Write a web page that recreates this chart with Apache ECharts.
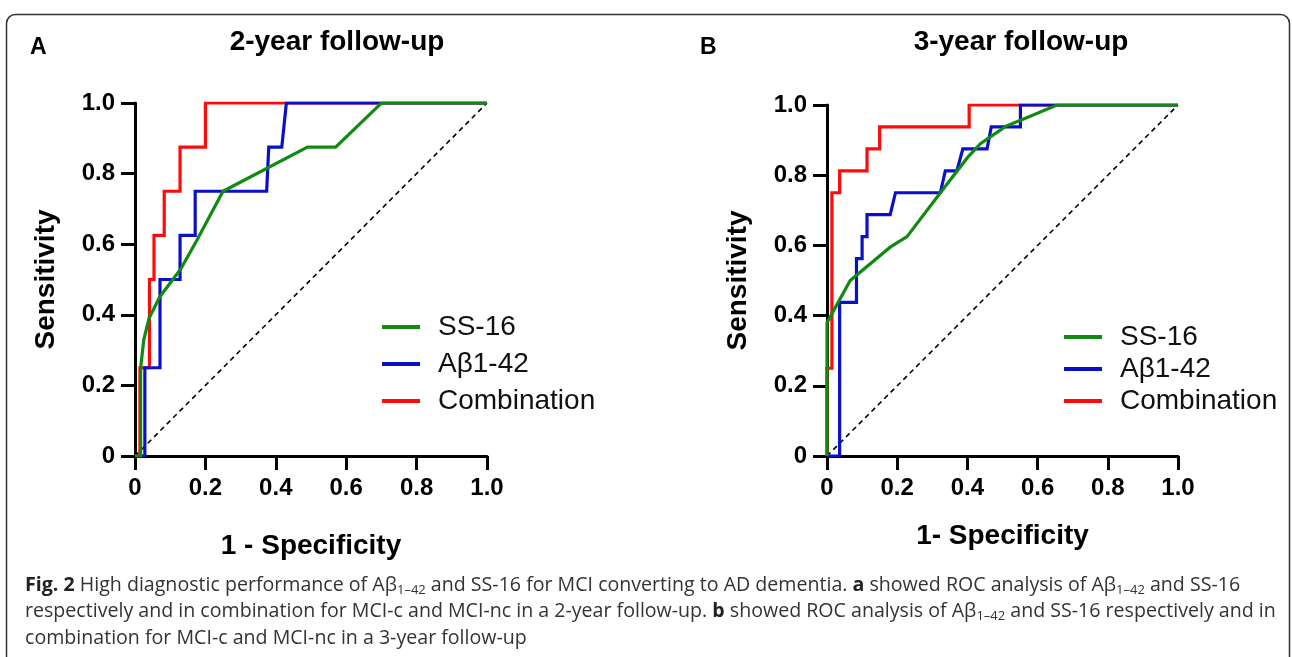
<!DOCTYPE html>
<html>
<head>
<meta charset="utf-8">
<title>ROC follow-up</title>
<script src="https://cdn.jsdelivr.net/npm/echarts/dist/echarts.min.js"></script>
<style>
  html, body { margin: 0; padding: 0; background: #fff; }
  #main { width: 1292px; height: 657px; }
</style>
</head>
<body>
<div id="main"></div>
<script>
  // tick labels
  const tickValues = [0, 0.2, 0.4, 0.6, 0.8, 1.0];
  const seriesNames = ['SS-16', 'Aβ1-42', 'Combination'];

  // panel A: 2-year follow-up, [1 - specificity, sensitivity]
  const ss16A = [[0, 0], [0.016, 0], [0.016, 0.25], [0.025, 0.33], [0.04, 0.39], [0.07, 0.45], [0.10, 0.49],
    [0.13, 0.53], [0.175, 0.61], [0.25, 0.75], [0.49, 0.875], [0.57, 0.875], [0.70, 1], [1, 1]];
  const abA = [[0, 0], [0.028, 0], [0.028, 0.25], [0.071, 0.25], [0.071, 0.5], [0.128, 0.5], [0.128, 0.625],
    [0.171, 0.625], [0.171, 0.75], [0.374, 0.75], [0.38, 0.875], [0.417, 0.875], [0.43, 1], [1, 1]];
  const combA = [[0, 0], [0.014, 0], [0.014, 0.25], [0.041, 0.25], [0.041, 0.5], [0.054, 0.5], [0.054, 0.625],
    [0.083, 0.625], [0.083, 0.75], [0.128, 0.75], [0.128, 0.875], [0.2, 0.875], [0.2, 1], [1, 1]];

  // panel B: 3-year follow-up
  const ss16B = [[0, 0], [0, 0.38], [0.066, 0.5], [0.18, 0.595], [0.228, 0.625], [0.323, 0.75], [0.40, 0.85],
    [0.437, 0.89], [0.51, 0.94], [0.56, 0.96], [0.655, 1], [1, 1]];
  const abB = [[0, 0], [0.036, 0], [0.036, 0.4375], [0.084, 0.4375], [0.084, 0.5625], [0.1, 0.5625], [0.1, 0.625],
    [0.114, 0.625], [0.114, 0.6875], [0.18, 0.6875], [0.195, 0.75], [0.323, 0.75], [0.337, 0.8125], [0.37, 0.8125],
    [0.387, 0.875], [0.456, 0.875], [0.468, 0.9375], [0.551, 0.9375], [0.551, 1], [1, 1]];
  const combB = [[0, 0], [0, 0.25], [0.014, 0.25], [0.014, 0.75], [0.036, 0.75], [0.036, 0.8125], [0.114, 0.8125],
    [0.114, 0.875], [0.15, 0.875], [0.15, 0.9375], [0.405, 0.9375], [0.405, 1], [1, 1]];

  // reference line
  const diagonal = [[0, 0], [1, 1]];

  const colors = { 'SS-16': '#118a11', 'Aβ1-42': '#0a10c8', 'Combination': '#ff0a0a' };
  const font = '"Liberation Sans", Arial, Helvetica, sans-serif';

  let myChart = echarts.init(document.getElementById('main'));

  function xAxisCfg(idx, name, gap) {
    return {
      type: 'value', gridIndex: idx, min: 0, max: 1, interval: 0.2,
      name: name, nameLocation: 'middle', nameGap: gap,
      nameTextStyle: { fontFamily: font, fontWeight: 'bold', fontSize: 28, color: '#000' },
      axisLine: { show: true, onZero: false, lineStyle: { color: '#000', width: 3 } },
      axisTick: { show: true, inside: false, length: 14, lineStyle: { color: '#000', width: 3 } },
      splitLine: { show: false },
      axisLabel: {
        fontFamily: font, fontWeight: 'bold', fontSize: 24, color: '#000', margin: 20,
        formatter: v => v === 0 ? '0' : v.toFixed(1)
      }
    }
  }

  function yAxisCfg(idx, gap) {
    return {
      type: 'value', gridIndex: idx, min: 0, max: 1, interval: 0.2,
      name: 'Sensitivity', nameLocation: 'middle', nameGap: gap,
      nameTextStyle: { fontFamily: font, fontWeight: 'bold', fontSize: 28, color: '#000' },
      axisLine: { show: true, onZero: false, lineStyle: { color: '#000', width: 3 } },
      axisTick: { show: true, inside: false, length: 14, lineStyle: { color: '#000', width: 3 } },
      splitLine: { show: false },
      axisLabel: {
        fontFamily: font, fontWeight: 'bold', fontSize: 24, color: '#000', margin: 20,
        formatter: v => v === 0 ? '0' : v.toFixed(1)
      }
    }
  }

  function rocSeries(name, data, idx) {
    return {
      name: name, type: 'line', data: data, xAxisIndex: idx, yAxisIndex: idx,
      showSymbol: false, symbol: 'none', animation: false,
      lineStyle: { color: colors[name], width: 3.2, join: 'miter' },
      itemStyle: { color: colors[name] }
    }
  }

  function diagSeries(idx) {
    return {
      type: 'line', data: diagonal, xAxisIndex: idx, yAxisIndex: idx, symbol: 'none', animation: false,
      lineStyle: { color: '#000', width: 1.6, type: [5, 4] }, silent: true
    }
  }

  const captionLines =
    '{b|Fig. 2} High diagnostic performance of Aβ{s|1–42} and SS-16 for MCI converting to AD dementia. {b|a} showed ROC analysis of Aβ{s|1–42} and SS-16\n' +
    'respectively and in combination for MCI-c and MCI-nc in a 2-year follow-up. {b|b} showed ROC analysis of Aβ{s|1–42} and SS-16 respectively and in\n' +
    'combination for MCI-c and MCI-nc in a 3-year follow-up';

  const capFont = '"Open Sans", "Noto Sans", sans-serif';

  let option = {
    backgroundColor: '#fff',
    animation: false,
    grid: [
      { left: 135, top: 103, width: 352, height: 353 },
      { left: 827, top: 105, width: 351, height: 351 }
    ],
    xAxis: [xAxisCfg(0, '1 - Specificity', 76), xAxisCfg(1, '1- Specificity', 66)],
    yAxis: [yAxisCfg(0, 75), yAxisCfg(1, 75)],
    legend: [
      {
        left: 377, top: 308, orient: 'vertical', itemWidth: 38, itemHeight: 4, itemGap: 9,
        icon: 'rect', data: seriesNames, selectedMode: false,
        textStyle: { fontFamily: font, fontSize: 28, color: '#111', padding: [0, 0, 0, 13] }
      },
      {
        left: 1059, top: 318, orient: 'vertical', itemWidth: 38, itemHeight: 4, itemGap: 4,
        icon: 'rect', data: seriesNames, selectedMode: false,
        textStyle: { fontFamily: font, fontSize: 28, color: '#111', padding: [0, 0, 0, 13] }
      }
    ],
    series: [
      diagSeries(0),
      rocSeries('Combination', combA, 0),
      rocSeries('Aβ1-42', abA, 0),
      rocSeries('SS-16', ss16A, 0),
      diagSeries(1),
      rocSeries('Combination', combB, 1),
      rocSeries('Aβ1-42', abB, 1),
      rocSeries('SS-16', ss16B, 1)
    ],
    graphic: [
      {
        type: 'rect', left: 4, top: 12, silent: true,
        shape: { width: 1283, height: 700, r: 9 },
        style: { fill: 'none', stroke: '#333', lineWidth: 1.5 }
      },
      {
        type: 'text', left: 30, top: 36,
        style: { text: 'A', font: 'bold 23px ' + font, fill: '#000' }
      },
      {
        type: 'text', left: 700, top: 36,
        style: { text: 'B', font: 'bold 23px ' + font, fill: '#000' }
      },
      {
        type: 'text', x: 337, y: 28,
        style: { text: '2-year follow-up', font: 'bold 28px ' + font, fill: '#000', align: 'center' }
      },
      {
        type: 'text', x: 1021, y: 28,
        style: { text: '3-year follow-up', font: 'bold 28px ' + font, fill: '#000', align: 'center' }
      },
      {
        type: 'text', left: 25, top: 572,
        style: {
          text: captionLines, fill: '#333', fontFamily: capFont, fontSize: 19.6, lineHeight: 26.5,
          rich: {
            b: { fontFamily: capFont, fontWeight: 'bold', fontSize: 19.6, lineHeight: 26.5, fill: '#222' },
            s: { fontFamily: capFont, fontSize: 13, lineHeight: 26.5, fill: '#333', padding: [10, 0, 0, 0] }
          }
        }
      }
    ]
  };

  myChart.setOption(option);
  window.addEventListener('resize', function () { myChart.resize() });
</script>
</body>
</html>
